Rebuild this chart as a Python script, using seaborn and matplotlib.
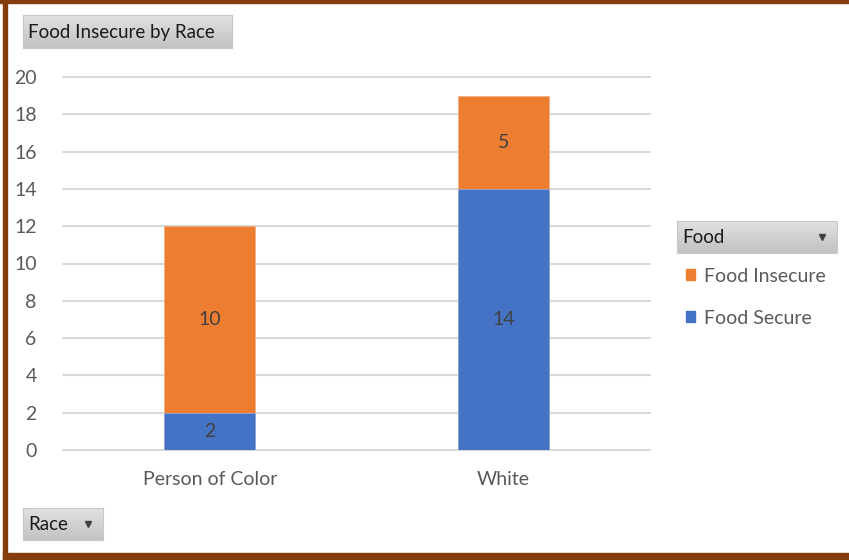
import matplotlib
matplotlib.use("Agg")

import numpy as np
import pandas as pd
import matplotlib.pyplot as plt
import seaborn as sns
from matplotlib.patches import Patch, Rectangle

races = ["Person of Color", "White"]
food_secure = [2, 14]
food_insecure = [10, 5]
y_ticks = [0, 2, 4, 6, 8, 10, 12, 14, 16, 18, 20]

ORANGE = "#ED7D31"
BLUE = "#4472C4"
BROWN = "#843C0C"
TEXT = "#595959"

sns.set_theme(style="white")
plt.rcParams["font.family"] = ["Lato", "DejaVu Sans"]

W, H = 849, 560


def px_box(x0, y0, x1, y1):
    # pixel box (top-left origin) -> figure fraction rect
    return [x0 / W, 1 - y1 / H, (x1 - x0) / W, (y1 - y0) / H]


def field_button(fig, box, label, arrow=None):
    bax = fig.add_axes(px_box(*box))
    grad = np.linspace(0.88, 0.76, 32).reshape(-1, 1)
    bax.imshow(grad, aspect="auto", cmap="gray", vmin=0, vmax=1,
               extent=[0, 1, 0, 1], origin="upper")
    bax.set_xlim(0, 1)
    bax.set_ylim(0, 1)
    bax.set_xticks([])
    bax.set_yticks([])
    for s in bax.spines.values():
        s.set_color("#C8C8C8")
        s.set_linewidth(0.8)
    pad = 5 / (box[2] - box[0])
    bax.text(pad, 0.47, label, ha="left", va="center", fontsize=13.5, color="#1A1A1A")
    if arrow is not None:
        ax_ = (arrow - box[0]) / (box[2] - box[0])
        bax.plot([ax_], [0.5], marker="v", markersize=5, color="#404040")
    return bax


fig = plt.figure(figsize=(W / 100, H / 100), dpi=100)

ax = fig.add_axes(px_box(63, 77, 650, 450))
totals = [s + i for s, i in zip(food_secure, food_insecure)]
sns.barplot(x=races, y=totals, color=ORANGE, saturation=1, width=0.31,
            linewidth=0.6, edgecolor="#F4B183", ax=ax)
sns.barplot(x=races, y=food_secure, color=BLUE, saturation=1, width=0.31,
            linewidth=0.6, edgecolor="#8FAADC", ax=ax)

for i, (s, f) in enumerate(zip(food_secure, food_insecure)):
    ax.text(i, s / 2, str(s), ha="center", va="center", fontsize=14, color="#404040")
    ax.text(i, s + f / 2, str(f), ha="center", va="center", fontsize=14, color="#404040")

ax.set_ylim(0, 20)
ax.set_xlim(-0.5, 1.5)
ax.set_yticks(y_ticks)
ax.yaxis.grid(True, color="#D9D9D9", linewidth=1.5)
ax.set_axisbelow(True)
for s in ax.spines.values():
    s.set_visible(False)
ax.tick_params(axis="both", length=0, labelsize=14, colors=TEXT)
ax.tick_params(axis="y", pad=19)
ax.tick_params(axis="x", pad=15)
ax.set_xlabel("")
ax.set_ylabel("")
for gl in ax.get_ygridlines():
    gl.set_clip_on(False)

handles = [Patch(color=ORANGE, label="Food Insecure"),
           Patch(color=BLUE, label="Food Secure")]
fig.legend(handles=handles, loc="upper left",
           bbox_to_anchor=(668 / W, 1 - 250 / H), frameon=False,
           handlelength=0.5, handleheight=0.5, handletextpad=0.45,
           labelspacing=1.3, fontsize=14, labelcolor=TEXT)

field_button(fig, (23, 15, 232, 48), "Food Insecure by Race")
field_button(fig, (677, 221, 837, 253), "Food", arrow=822)
field_button(fig, (23, 508, 103, 540), "Race", arrow=88)

# brown frame
fig.patches.append(Rectangle((0, 1 - 3 / H), 1, 3 / H, transform=fig.transFigure,
                             color=BROWN, zorder=10))
fig.patches.append(Rectangle((3 / W, 0), 4 / W, 1, transform=fig.transFigure,
                             color=BROWN, zorder=10))
fig.patches.append(Rectangle((3 / W, 1 - 559 / H), 1, 6 / H, transform=fig.transFigure,
                             color=BROWN, zorder=10))

fig.savefig("out.png", dpi=100)
